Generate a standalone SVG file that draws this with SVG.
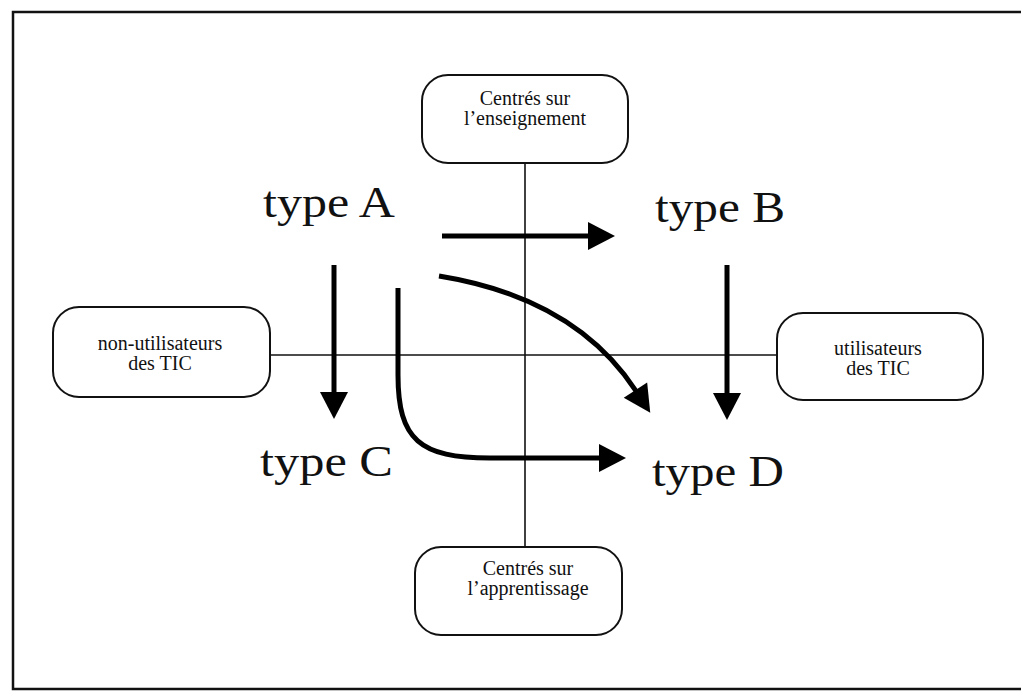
<svg xmlns="http://www.w3.org/2000/svg" width="1021" height="691" viewBox="0 0 1021 691">
<style>
.box{fill:#fff;stroke:#111;stroke-width:2}
.lbl{font-family:"Liberation Serif","Times New Roman",serif;font-size:20px;fill:#111;text-anchor:middle}
.big{font-family:"Liberation Serif","Times New Roman",serif;font-size:44px;fill:#111}
.axis{stroke:#111;stroke-width:1.6;fill:none}
.arr{stroke:#000;stroke-width:5;fill:none;marker-end:url(#ah)}
</style>
<defs>
<marker id="ah" markerUnits="userSpaceOnUse" markerWidth="30" markerHeight="30" viewBox="0 -15 28 30" refX="1" refY="0" orient="auto">
<path d="M0,-14 L27,0 L0,14 Z" fill="#000"/>
</marker>
</defs>
<rect width="1021" height="691" fill="#fff"/>
<path d="M1021,12 L13,12 L13,689 L1021,689" fill="none" stroke="#111" stroke-width="2.5"/>
<g id="connectors">
<line class="axis" x1="525" y1="163" x2="525" y2="547"/>
<line class="axis" x1="270" y1="355" x2="777" y2="355"/>
<path class="arr" d="M442,236 L589,236"/>
<path class="arr" d="M334,265 L334,393"/>
<path class="arr" d="M727,265 L727,394"/>
<path class="arr" d="M439,276 Q575,298 636,391"/>
<path class="arr" d="M398,288 L398,375 C398,440 420,458 490,458 L600,458"/>
</g>
<g id="node-enseignement">
<rect class="box" x="422" y="75" width="206" height="88" rx="26"/>
<text class="lbl" x="525" y="105">Centrés sur</text>
<text class="lbl" x="525" y="125">l’enseignement</text>
</g>
<g id="node-non-utilisateurs">
<rect class="box" x="53" y="307" width="217" height="90" rx="26"/>
<text class="lbl" x="160" y="350">non-utilisateurs</text>
<text class="lbl" x="160" y="370">des TIC</text>
</g>
<g id="node-utilisateurs">
<rect class="box" x="777" y="313" width="206" height="87" rx="26"/>
<text class="lbl" x="878" y="355">utilisateurs</text>
<text class="lbl" x="878" y="375">des TIC</text>
</g>
<g id="node-apprentissage">
<rect class="box" x="415" y="547" width="207" height="88" rx="26"/>
<text class="lbl" x="528" y="575">Centrés sur</text>
<text class="lbl" x="528" y="595">l’apprentissage</text>
</g>
<g id="type-A"><text class="big" x="263" y="217" textLength="132" lengthAdjust="spacingAndGlyphs">type A</text></g>
<g id="type-B"><text class="big" x="655" y="222" textLength="130" lengthAdjust="spacingAndGlyphs">type B</text></g>
<g id="type-C"><text class="big" x="260" y="476" textLength="133" lengthAdjust="spacingAndGlyphs">type C</text></g>
<g id="type-D"><text class="big" x="652" y="486" textLength="132" lengthAdjust="spacingAndGlyphs">type D</text></g>
</svg>
